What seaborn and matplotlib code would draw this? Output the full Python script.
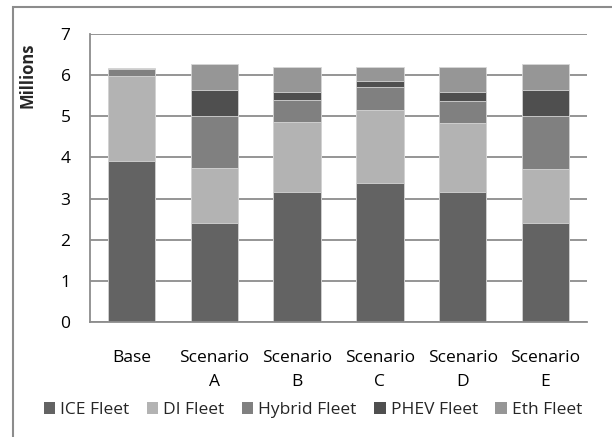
import matplotlib
matplotlib.use("Agg")
import matplotlib.pyplot as plt
from matplotlib.patches import Rectangle
import seaborn as sns
import numpy as np
import pandas as pd

categories = ["Base", "Scenario\nA", "Scenario\nB", "Scenario\nC", "Scenario\nD", "Scenario\nE"]
ice_fleet = [3.92, 2.41, 3.16, 3.37, 3.15, 2.41]
di_fleet = [2.06, 1.34, 1.71, 1.78, 1.69, 1.32]
hybrid_fleet = [0.17, 1.25, 0.52, 0.57, 0.53, 1.27]
phev_fleet = [0.00, 0.64, 0.19, 0.14, 0.21, 0.64]
eth_fleet = [0.02, 0.63, 0.62, 0.33, 0.62, 0.63]

series_names = ["ICE Fleet", "DI Fleet", "Hybrid Fleet", "PHEV Fleet", "Eth Fleet"]
series_vals = [ice_fleet, di_fleet, hybrid_fleet, phev_fleet, eth_fleet]
colors = ["#636363", "#b3b3b3", "#808080", "#4f4f4f", "#969696"]

sns.set_theme(style="white")
plt.rcParams["font.family"] = ["Open Sans", "DejaVu Sans"]
FS = 12.5

fig = plt.figure(figsize=(6.12, 4.37), dpi=100)
ax = fig.add_axes([90 / 612, 1 - 322 / 437, 497 / 612, 288 / 437])

cum = np.cumsum(np.array(series_vals), axis=0)
# draw from the top layer down so each lower stack overlays
for i in range(len(series_names) - 1, -1, -1):
    df = pd.DataFrame({"cat": categories, "val": cum[i]})
    sns.barplot(data=df, x="cat", y="val", color=colors[i], width=0.57,
                edgecolor="#d6d6d6", linewidth=0.6, saturation=1, ax=ax,
                zorder=2)

ax.set_ylim(0, 7)
ax.set_yticks(range(0, 8))
ax.yaxis.grid(True, color="#8c8c8c", linewidth=1.3)
ax.set_axisbelow(True)
for s in ["top", "right"]:
    ax.spines[s].set_visible(False)
for s in ["left", "bottom"]:
    ax.spines[s].set_color("#8c8c8c")
    ax.spines[s].set_linewidth(1.3)
ax.set_xlabel("")
ax.set_ylabel("")
ax.tick_params(axis="y", length=0, pad=14, labelsize=FS, labelcolor="black")
ax.tick_params(axis="x", length=0, pad=20, labelsize=FS, labelcolor="black")
for t in ax.get_xticklabels():
    t.set_linespacing(1.65)
    t.set_verticalalignment("top")

fig.text(27 / 612, 1 - 75 / 437, "Millions", rotation=90, ha="center", va="center",
         fontsize=FS - 0.5, fontweight="bold")

handles = [Rectangle((0, 0), 1, 1, facecolor=c, edgecolor="none") for c in colors]
fig.legend(handles, series_names, loc="center", bbox_to_anchor=(313 / 612, 1 - 410 / 437),
           ncol=5, frameon=False, fontsize=FS, handlelength=0.65, handleheight=0.65,
           handletextpad=0.3, columnspacing=1.0, borderaxespad=0, borderpad=0)

fig.patches.append(Rectangle((13 / 612, -0.1), 1.2, 1 - 7 / 437 + 0.1,
                             transform=fig.transFigure, fill=False,
                             edgecolor="#8c8c8c", linewidth=1.5))

fig.savefig("out.png", dpi=100)
